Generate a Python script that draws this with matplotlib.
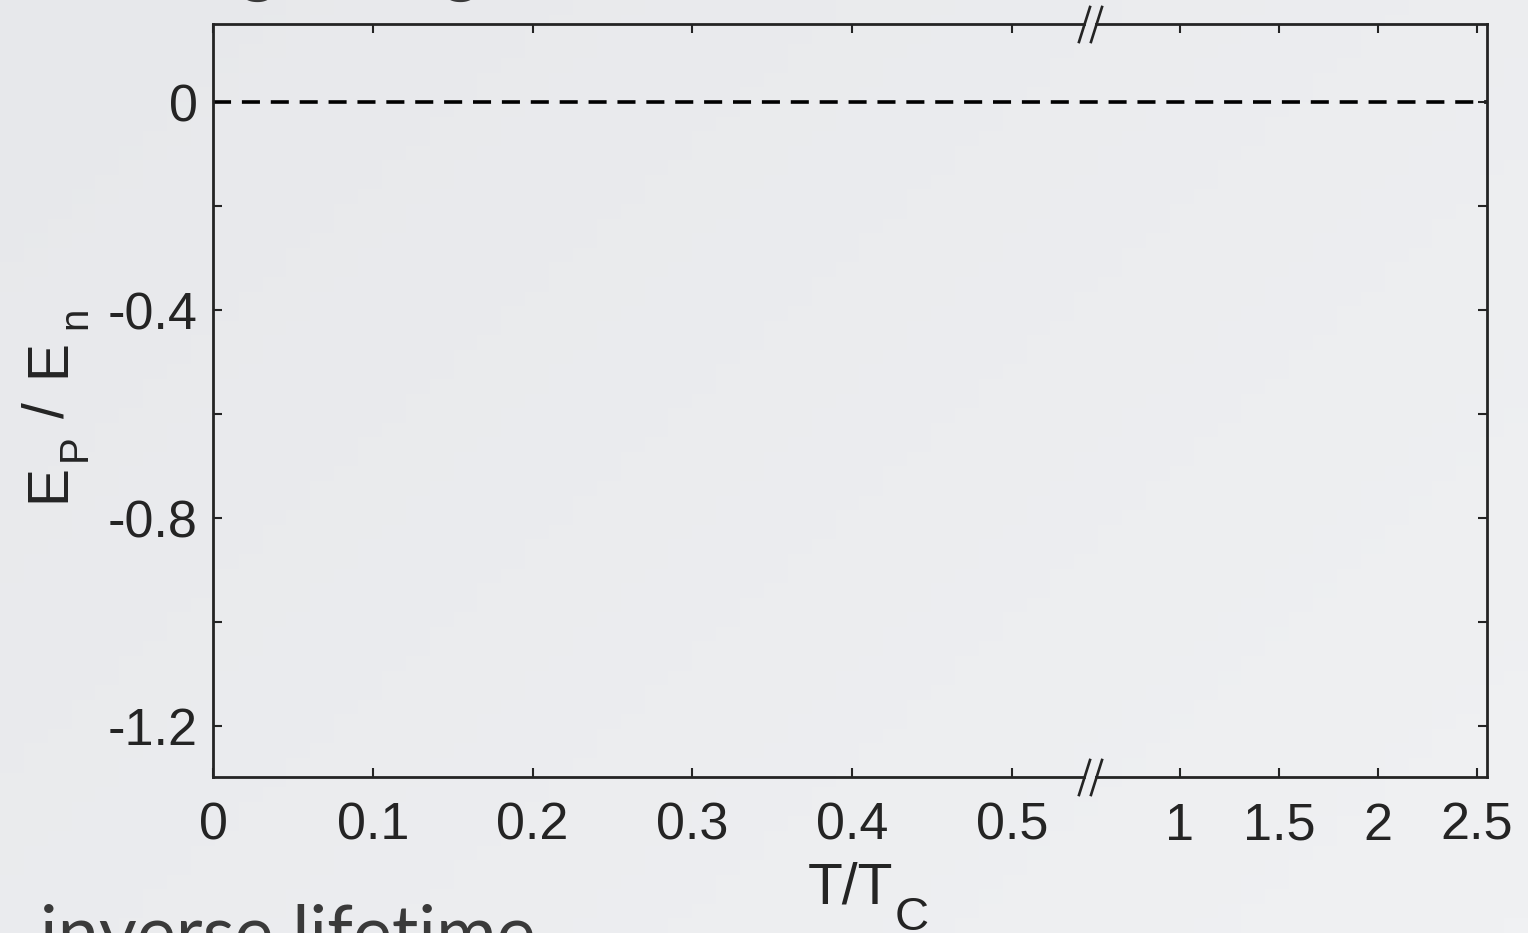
import matplotlib
matplotlib.use('Agg')
import matplotlib.pyplot as plt
import numpy as np

# ---------------- data ----------------
x_left_ticks = [0, 0.1, 0.2, 0.3, 0.4, 0.5]
x_left_labels = ['0', '0.1', '0.2', '0.3', '0.4', '0.5']
x_right_ticks = [1, 1.5, 2, 2.5]
x_right_labels = ['1', '1.5', '2', '2.5']
y_ticks = [0, -0.2, -0.4, -0.6, -0.8, -1.0, -1.2]
y_labels = ['0', '', '-0.4', '', '-0.8', '', '-1.2']
reference_level = 0.0
x_left_lim = (0.0, 0.545)
x_right_lim = (0.576, 2.55)
y_lim = (-1.298, 0.15)
heading_top = 'Pairing energy'
heading_bottom = 'inverse lifetime'
xlabel_main = 'T/T'
xlabel_sub = 'C'
# y label pieces: (text, is_subscript)
ylabel_pieces = [('E', False), ('P', True), ('/', False), ('E', False), ('n', True)]

# ---------------- style ----------------
W, H = 1528, 933
DPI = 100
INK = '#242424'
plt.rcParams['lines.scale_dashes'] = False

fig = plt.figure(figsize=(W / DPI, H / DPI), dpi=DPI)

# subtle background gradient
bg = fig.add_axes([0, 0, 1, 1], zorder=-10)
gx, gy = np.meshgrid(np.linspace(0, 1, 64), np.linspace(0, 1, 64))
g = (gx * 0.6 + gy * 0.4)
c0 = np.array([0xe7, 0xe8, 0xeb]) / 255.0
c1 = np.array([0xf0, 0xf1, 0xf3]) / 255.0
img = c0[None, None, :] * (1 - g[..., None]) + c1[None, None, :] * g[..., None]
bg.imshow(img, extent=[0, 1, 0, 1], aspect='auto', origin='upper')
bg.axis('off')
fig.patch.set_facecolor('#eceef0')


def px_rect(x0, y0, x1, y1):
    return [x0 / W, 1 - y1 / H, (x1 - x0) / W, (y1 - y0) / H]


def fx(px):
    return px / W


def fy(py):
    return 1 - py / H


top, bottom = 24, 777
ax1 = fig.add_axes(px_rect(213, top, 1084, bottom))
ax2 = fig.add_axes(px_rect(1096, top, 1487, bottom))

TICKFONT = dict(family='Liberation Sans', size=37.5, color=INK)

for ax in (ax1, ax2):
    ax.set_facecolor('none')
    ax.set_ylim(*y_lim)
    for s in ax.spines.values():
        s.set_linewidth(2.0)
        s.set_color(INK)
    ax.tick_params(direction='in', length=6.5, width=1.5, color=INK,
                   top=True, bottom=True, labelcolor=INK)
    ax.tick_params(axis='x', pad=18)
    ax.tick_params(axis='y', pad=11)

ax1.set_xlim(*x_left_lim)
ax2.set_xlim(*x_right_lim)
ax1.spines['right'].set_visible(False)
ax2.spines['left'].set_visible(False)

ax1.set_xticks(x_left_ticks)
ax1.set_xticklabels(x_left_labels, fontdict=TICKFONT)
ax2.set_xticks(x_right_ticks)
ax2.set_xticklabels(x_right_labels, fontdict=TICKFONT)

ax1.set_yticks(y_ticks)
ax1.set_yticklabels(y_labels, fontdict=TICKFONT)
ax1.tick_params(axis='y', left=True, right=False)
ax2.set_yticks(y_ticks)
ax2.tick_params(axis='y', left=False, right=True, labelleft=False, labelright=False)

# dashed reference line at 0, drawn once across both panels
ext = (1487 - 213) / (1084 - 213)
ax1.axhline(reference_level, xmin=0, xmax=ext, color='black', lw=2.6,
            dashes=(13, 7.8), clip_on=False)

# break marks
slash = [(-6, -19), (6, 19)]
for ax, xa in ((ax1, 1.0), (ax2, 0.0)):
    ax.plot([xa, xa], [0, 1], transform=ax.transAxes, linestyle='none',
            marker=slash, markersize=27, markeredgewidth=1.9,
            markeredgecolor=INK, color=INK, clip_on=False)

# x label
fig.text(fx(808), fy(903), xlabel_main, ha='left', va='baseline',
         family='Liberation Sans', size=41, color=INK)
fig.text(fx(895), fy(930), xlabel_sub, ha='left', va='baseline',
         family='Liberation Sans', size=34, color=INK)

# y label built from pieces (rotated, running upward)
y_starts = [502, 461, 418, 377, 329]
for (txt, sub), ys in zip(ylabel_pieces, y_starts):
    fig.text(fx(86 if sub else 64), fy(ys), txt, rotation=90,
             rotation_mode='anchor', ha='left', va='baseline',
             family='Liberation Sans', size=29 if sub else 41, color=INK)

# slide headings (partly cut off)
fig.text(fx(55), fy(-13), heading_top, ha='left', va='baseline',
         family='Lato', size=53, color='#3a3a3a')
fig.text(fx(40), fy(958), heading_bottom, ha='left', va='baseline',
         family='Lato', size=53, color='#3a3a3a')

fig.savefig('out.png', dpi=DPI, facecolor=fig.get_facecolor())
